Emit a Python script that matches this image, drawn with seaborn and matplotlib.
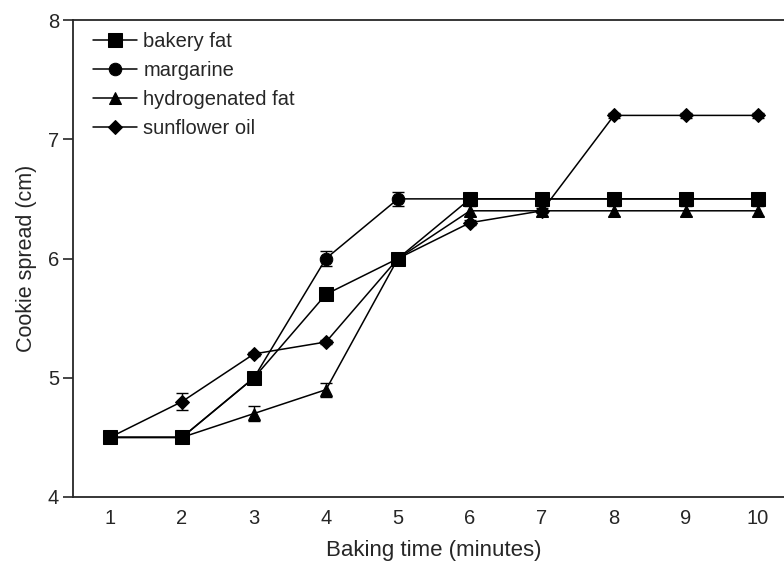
import matplotlib
matplotlib.use("Agg")
import matplotlib.pyplot as plt
import seaborn as sns
import pandas as pd

time_min = [1, 2, 3, 4, 5, 6, 7, 8, 9, 10]
bakery_fat = [4.5, 4.5, 5.0, 5.7, 6.0, 6.5, 6.5, 6.5, 6.5, 6.5]
margarine = [4.5, 4.5, 5.0, 6.0, 6.5, 6.5, 6.5, 6.5, 6.5, 6.5]
hydrogenated_fat = [4.5, 4.5, 4.7, 4.9, 6.0, 6.4, 6.4, 6.4, 6.4, 6.4]
sunflower_oil = [4.5, 4.8, 5.2, 5.3, 6.0, 6.3, 6.4, 7.2, 7.2, 7.2]

err_bakery = [0.02, 0.02, 0.04, 0.03, 0.03, 0.05, 0.05, 0.05, 0.05, 0.05]
err_margarine = [0.02, 0.02, 0.03, 0.06, 0.06, 0.03, 0.03, 0.03, 0.03, 0.03]
err_hydro = [0.02, 0.02, 0.06, 0.06, 0.03, 0.04, 0.04, 0.04, 0.04, 0.04]
err_sunflower = [0.02, 0.07, 0.02, 0.02, 0.02, 0.02, 0.02, 0.02, 0.02, 0.02]

series_names = ["bakery fat", "margarine", "hydrogenated fat", "sunflower oil"]
series_vals = [bakery_fat, margarine, hydrogenated_fat, sunflower_oil]
series_err = [err_bakery, err_margarine, err_hydro, err_sunflower]
markers = {"bakery fat": "s", "margarine": "o", "hydrogenated fat": "^", "sunflower oil": "D"}
msizes = {"bakery fat": 10, "margarine": 9, "hydrogenated fat": 9, "sunflower oil": 7}

sns.set_style("ticks")
plt.rcParams['font.family'] = ['Liberation Sans', 'DejaVu Sans']

rows = []
for name, vals in zip(series_names, series_vals):
    for t, v in zip(time_min, vals):
        rows.append({"time": t, "spread": v, "series": name})
df = pd.DataFrame(rows)

fig = plt.figure(figsize=(7.84, 5.64), dpi=100)
ax = fig.add_axes([73/784, 67/564, 721/784, 477/564])

for name, vals, err in zip(series_names, series_vals, series_err):
    ax.errorbar(time_min, vals, yerr=err, fmt="none", ecolor="black",
                elinewidth=1, capsize=4, capthick=1, zorder=2)

for name in series_names:
    sub = df[df["series"] == name]
    sns.lineplot(data=sub, x="time", y="spread", ax=ax, color="black",
                 marker=markers[name], markersize=msizes[name],
                 markeredgecolor="black", linewidth=1.1, label=name, zorder=3)

ax.set_xlim(0.486, 10.5)
ax.set_ylim(4, 8)
ax.set_xticks(time_min)
ax.set_yticks([4, 5, 6, 7, 8])
ax.tick_params(axis="x", length=0, labelsize=14.5, pad=9)
ax.tick_params(axis="y", length=7, width=1.2, labelsize=14.5, direction="out", pad=3)
for s in ["left", "bottom", "top"]:
    ax.spines[s].set_linewidth(1.3)
ax.spines["right"].set_visible(False)

ax.set_xlabel("Baking time (minutes)", fontsize=16, labelpad=8)
ax.set_ylabel("Cookie spread (cm)", fontsize=15.5, labelpad=8)

ax.legend(loc="upper left", frameon=False, fontsize=14.5, handlelength=2.2,
          borderaxespad=0.2, labelspacing=0.5, handletextpad=0.3,
          bbox_to_anchor=(0.011, 1.0))

fig.savefig("out.png", dpi=100)
